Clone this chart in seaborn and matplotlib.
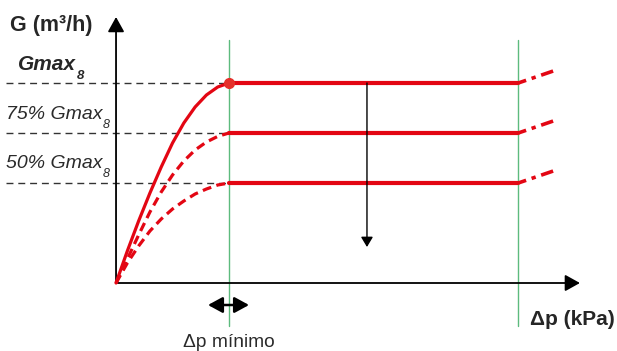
import numpy as np
import pandas as pd
import matplotlib.pyplot as plt
import seaborn as sns

# x: pressure drop in units of dp_min, y: flow in % of Gmax8
dp_min = 1.0
dp_max = 3.56
dp_ext = 0.31          # length of the dashed continuation after dp_max
ext_rise = 6           # rise of the dashed continuation
levels = [100, 75, 50]
level_texts = ['Gmax', '75% Gmax', '50% Gmax']

curve_dp = [0, 0.1, 0.2, 0.3, 0.4, 0.5, 0.6, 0.7, 0.8, 0.9, 1.0]
curve_g_100 = [0, 16, 31, 45, 58, 70, 80, 88, 94, 98, 100]
curve_g_75 = [0, 12, 24, 35.5, 45.5, 54, 61, 66.5, 70.5, 73.3, 75]
curve_g_50 = [0, 10, 18.5, 26, 32, 37, 41, 44.5, 47, 49, 50]

RED = '#e30613'
GREEN = '#5dbb7e'
GREY = '#2a2a2a'

sns.set_style('white')
plt.rcParams['font.family'] = ['Liberation Sans', 'DejaVu Sans']

fig = plt.figure(figsize=(6.17, 3.51), dpi=100)
ax = fig.add_axes([0, 0, 1, 1])
ax.set_xlim(-1.027, 4.434)
ax.set_ylim(-34, 141.5)
ax.axis('off')

# dashed reference lines for the levels
for lvl in levels:
    ax.plot([-0.973, dp_min], [lvl, lvl], color='#333333', lw=1.0, dashes=(5, 3.5), zorder=1)

# green limits
for xv in [dp_min, dp_max]:
    ax.plot([xv, xv], [121.5, -21.5], color=GREEN, lw=1.0, zorder=2)

# axes with arrows
ax.annotate('', xy=(0, 133), xytext=(0, 0),
            arrowprops=dict(arrowstyle='-|>,head_length=0.45,head_width=0.25', mutation_scale=20,
                            lw=1.3, color='black', shrinkA=0, shrinkB=0))
ax.annotate('', xy=(4.106, 0), xytext=(0, 0),
            arrowprops=dict(arrowstyle='-|>,head_length=0.45,head_width=0.25', mutation_scale=20,
                            lw=1.3, color='black', shrinkA=0, shrinkB=0))

# rise curves
sns.lineplot(x=curve_dp, y=curve_g_100, ax=ax, color=RED, lw=2.3, zorder=4,
             solid_joinstyle='round')
sns.lineplot(x=curve_dp, y=curve_g_75, ax=ax, color=RED, lw=2.3, zorder=4,
             linestyle=(0, (2.8, 1.7)))
sns.lineplot(x=curve_dp, y=curve_g_50, ax=ax, color=RED, lw=2.3, zorder=4,
             linestyle=(0, (2.8, 1.7)))

# plateaus and their continuation
for lvl in levels:
    sns.lineplot(x=[dp_min, dp_max], y=[lvl, lvl], ax=ax, color=RED, lw=3.0, zorder=4)
    sns.lineplot(x=[dp_max, dp_max + dp_ext], y=[lvl, lvl + ext_rise], ax=ax, color=RED,
                 lw=2.6, zorder=4, linestyle=(1.2, (3.5, 1.6, 1.2, 1.6)))

ax.plot([dp_min], [levels[0]], 'o', color='#e4302a', ms=7, zorder=5)

# arrow: reduction of flow
ax.annotate('', xy=(2.221, 18), xytext=(2.221, levels[0]),
            arrowprops=dict(arrowstyle='-|>,head_length=0.5,head_width=0.3', mutation_scale=12,
                            lw=1.0, color='black', shrinkA=0, shrinkB=0), zorder=6)
# arrow: dp minimo
ax.annotate('', xy=(1.177, -11), xytext=(0.814, -11),
            arrowprops=dict(arrowstyle='<|-|>,head_length=0.55,head_width=0.3', mutation_scale=16,
                            lw=1.8, color='black', shrinkA=0, shrinkB=0))

# texts
ax.text(-0.938, 129, 'G (m³/h)', fontsize=15.5, fontweight='bold', va='center', ha='left')
t = ax.text(-0.867, 106.5, 'Gmax', fontsize=15, fontweight='bold', fontstyle='italic',
            va='baseline', ha='left')
ax.annotate('8', xy=(1, 0), xycoords=t, xytext=(0.3, -3.5), textcoords='offset points',
            fontsize=9.5, fontweight='bold', fontstyle='italic', va='baseline', ha='left')
for lvl, txt, yb in zip(levels[1:], level_texts[1:], [82, 57.5]):
    t = ax.text(-0.973, yb, txt, fontsize=14, fontstyle='italic', color=GREY,
                va='baseline', ha='left')
    ax.annotate('8', xy=(1, 0), xycoords=t, xytext=(0.3, -3.5), textcoords='offset points',
                fontsize=9, fontstyle='italic', color=GREY, va='baseline', ha='left')

ax.text(3.664, -21, 'Δp (kPa)', fontsize=15, fontweight='bold', va='baseline', ha='left')
ax.text(dp_min, -25.5, 'Δp mínimo', fontsize=13.8, color=GREY, va='top', ha='center')

fig.savefig('out.png', dpi=100)
